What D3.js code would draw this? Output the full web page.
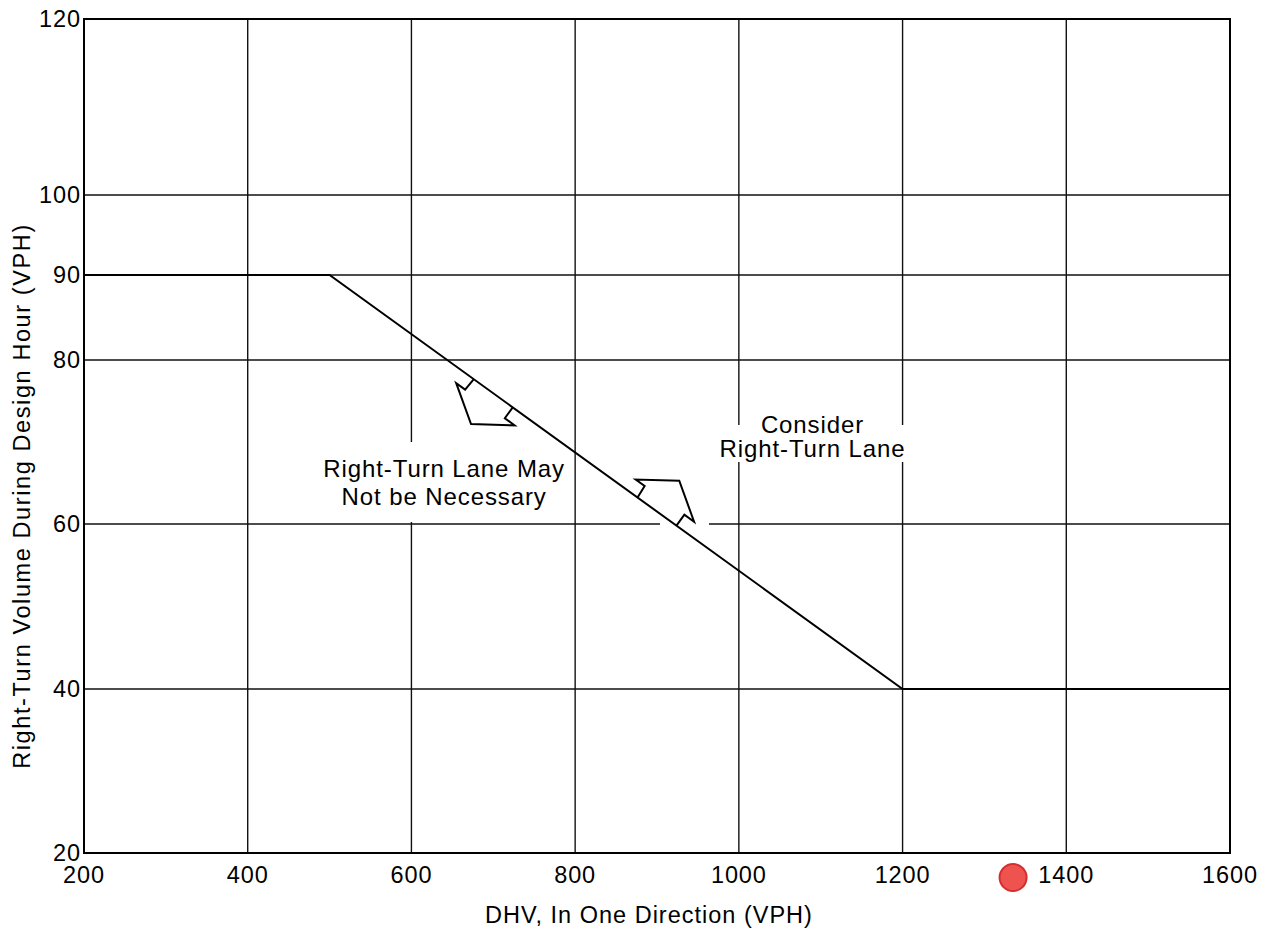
<!DOCTYPE html>
<html><head><meta charset="utf-8">
<script src="https://cdn.jsdelivr.net/npm/d3@7"></script>
<style>body{margin:0;background:#fff}svg{display:block}</style>
</head><body><svg id="c" width="1273" height="933"></svg>
<script>
// ---- data ----
const xTicks = [200, 400, 600, 800, 1000, 1200, 1400, 1600];
const yTicks = [20, 40, 60, 80, 90, 100, 120];
const thresholdX = [200, 500, 1200, 1600];
const thresholdY = [90, 90, 40, 40];
const arrowAtX = [700, 900];          // where the arrows sit on the sloped part
const arrowSide = [-1, 1];            // -1 below the line, +1 above it
const noteLines = [["Right-Turn Lane May", "Not be Necessary"], ["Consider", "Right-Turn Lane"]];
const noteX = [640, 1090];
const noteY = [65, 70.6];
const markerX = [1335];
const markerY = [17];
const xTitle = "DHV, In One Direction (VPH)";
const yTitle = "Right-Turn Volume During Design Hour (VPH)";

// ---- drawing ----
const svg = d3.select("#c");
const FONT = "'Liberation Sans', Arial, sans-serif";
const x = d3.scaleLinear().domain([200, 1600]).range([84, 1230]);
const y = d3.scaleLinear().domain(yTicks).range([853, 689, 524, 360, 275, 195, 19]);

// grid
const g = svg.append("g");
g.selectAll("line.v").data(xTicks).join("line")
  .attr("x1", d => x(d)).attr("x2", d => x(d))
  .attr("y1", y(20)).attr("y2", y(120))
  .attr("stroke", "#111").attr("stroke-width", 1.4);
g.selectAll("line.h").data(yTicks).join("line")
  .attr("x1", x(200)).attr("x2", x(1600))
  .attr("y1", d => y(d)).attr("y2", d => y(d))
  .attr("stroke", "#111").attr("stroke-width", 1.4);

// white masks behind notes (gaps in the grid)
const masks = [[318, 442, 252, 80], [713, 425, 196, 37], [660, 517, 49, 14]];
svg.selectAll("rect.mask").data(masks).join("rect")
  .attr("x", d => d[0]).attr("y", d => d[1]).attr("width", d => d[2]).attr("height", d => d[3])
  .attr("fill", "#fff");

// frame
svg.append("rect").attr("x", x(200)).attr("y", y(120))
  .attr("width", x(1600) - x(200)).attr("height", y(20) - y(120))
  .attr("fill", "none").attr("stroke", "#000").attr("stroke-width", 2);

// arrows
const p0 = [x(thresholdX[1]), y(thresholdY[1])];
const p1 = [x(thresholdX[2]), y(thresholdY[2])];
const len = Math.hypot(p1[0] - p0[0], p1[1] - p0[1]);
const d = [(p1[0] - p0[0]) / len, (p1[1] - p0[1]) / len];
const nUp = [d[1], -d[0]];
const shape = [[-24, 0], [-25, 13.5], [-36, 13.5], [0, 38], [36, 13.5], [24, 13.5], [24, 0]];
arrowAtX.forEach((ax, i) => {
  const t = (ax - thresholdX[1]) / (thresholdX[2] - thresholdX[1]);
  const m = [p0[0] + t * (p1[0] - p0[0]), p0[1] + t * (p1[1] - p0[1])];
  const s = arrowSide[i];
  const pts = shape.map(([u, v]) => [m[0] + u * d[0] + s * v * nUp[0], m[1] + u * d[1] + s * v * nUp[1]]);
  svg.append("path").attr("d", d3.line()(pts))
    .attr("fill", "#fff").attr("stroke", "#000").attr("stroke-width", 2).attr("stroke-linejoin", "miter");
});

// threshold line
svg.append("path")
  .attr("d", d3.line().x(v => x(v[0])).y(v => y(v[1]))(thresholdX.map((v, i) => [v, thresholdY[i]])))
  .attr("fill", "none").attr("stroke", "#000").attr("stroke-width", 2);

// notes
const lineGap = [28.3, 23.5];
noteLines.forEach((lines, i) => {
  const cx = x(noteX[i]), cy = y(noteY[i]);
  const t = svg.append("text").attr("font-family", FONT).attr("font-size", 24)
    .attr("letter-spacing", 0.9).attr("text-anchor", "middle").attr("fill", "#000");
  lines.forEach((L, j) => {
    t.append("tspan").attr("x", cx).attr("y", cy + (j - 0.5) * lineGap[i] + 8).text(L);
  });
});

// tick labels
svg.selectAll("text.xt").data(xTicks).join("text")
  .attr("x", d => x(d)).attr("y", 883).attr("text-anchor", "middle")
  .attr("font-family", FONT).attr("font-size", 23.5).attr("letter-spacing", 0.9).text(d => d);
svg.selectAll("text.yt").data(yTicks).join("text")
  .attr("x", 81).attr("y", d => y(d)).attr("dy", "0.36em").attr("text-anchor", "end")
  .attr("font-family", FONT).attr("font-size", 23.5).attr("letter-spacing", 0.9).text(d => d);

// titles
svg.append("text").attr("x", 649).attr("y", 923).attr("text-anchor", "middle")
  .attr("font-family", FONT).attr("font-size", 23.5).attr("letter-spacing", 1.0).text(xTitle);
svg.append("text").attr("transform", "translate(30,496) rotate(-90)").attr("text-anchor", "middle")
  .attr("font-family", FONT).attr("font-size", 23.5).attr("letter-spacing", 1.6).text(yTitle);

// marker
svg.selectAll("circle.mk").data(markerX).join("circle")
  .attr("cx", d => x(d)).attr("cy", (d, i) => y(markerY[i])).attr("r", 13.5)
  .attr("fill", "#ef5350").attr("stroke", "#d32f2f").attr("stroke-width", 2);
</script>
</body></html>
